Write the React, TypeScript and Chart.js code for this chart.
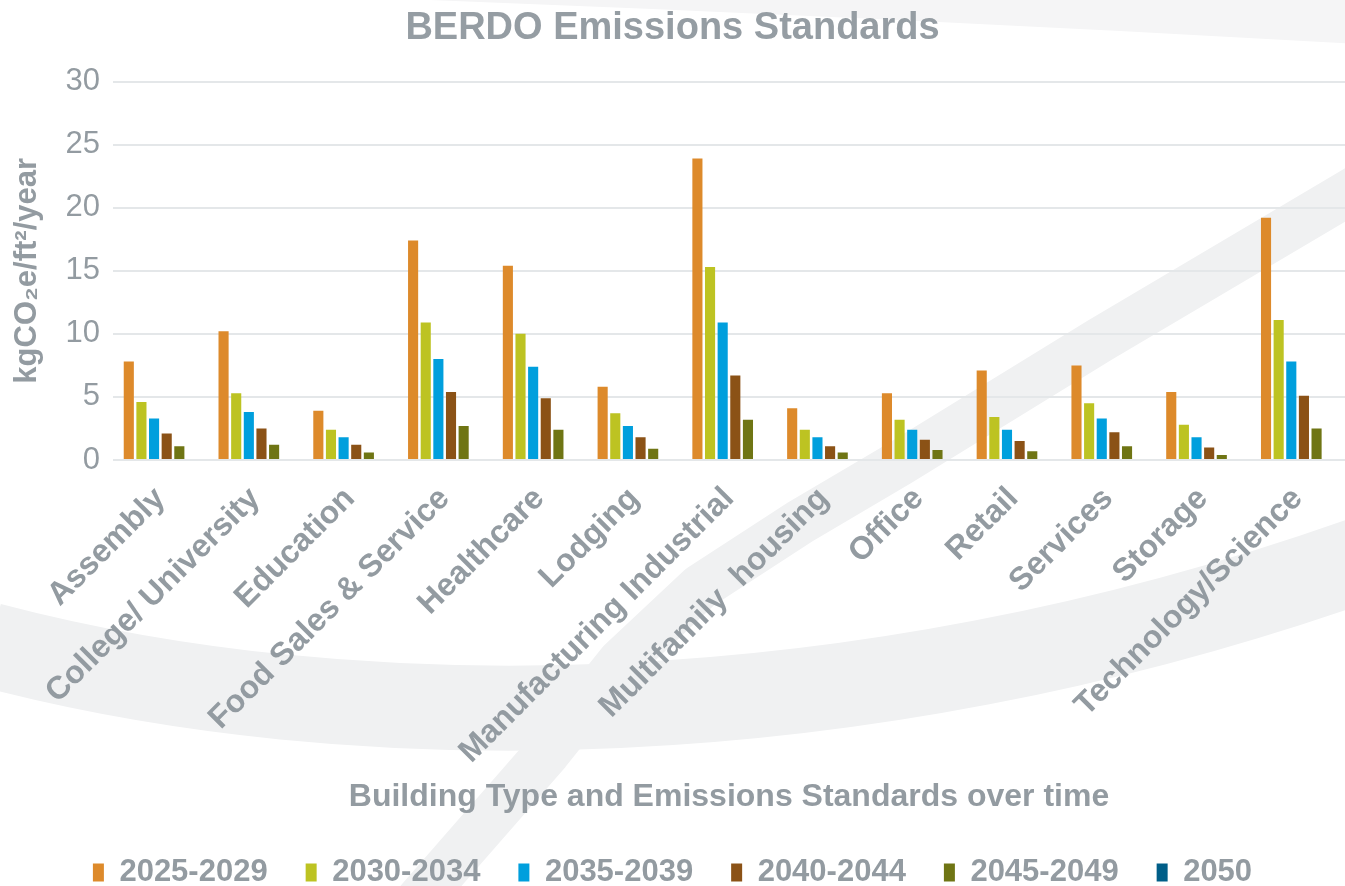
import React, { useEffect, useRef } from "react";
import { Chart, registerables } from "chart.js";

Chart.register(...registerables);

const categories = [
  "Assembly",
  "College/ University",
  "Education",
  "Food Sales & Service",
  "Healthcare",
  "Lodging",
  "Manufacturing Industrial",
  "Multifamily  housing",
  "Office",
  "Retail",
  "Services",
  "Storage",
  "Technology/Science",
];

const seriesNames = ["2025-2029", "2030-2034", "2035-2039", "2040-2044", "2045-2049", "2050"];

const s2025 = [7.8, 10.2, 3.9, 17.4, 15.4, 5.8, 23.9, 4.1, 5.3, 7.1, 7.5, 5.4, 19.2];
const s2030 = [4.6, 5.3, 2.4, 10.9, 10.0, 3.7, 15.3, 2.4, 3.2, 3.4, 4.5, 2.8, 11.1];
const s2035 = [3.3, 3.8, 1.8, 8.0, 7.4, 2.7, 10.9, 1.8, 2.4, 2.4, 3.3, 1.8, 7.8];
const s2040 = [2.1, 2.5, 1.2, 5.4, 4.9, 1.8, 6.7, 1.1, 1.6, 1.5, 2.2, 1.0, 5.1];
const s2045 = [1.1, 1.2, 0.6, 2.7, 2.4, 0.9, 3.2, 0.6, 0.8, 0.7, 1.1, 0.4, 2.5];
const s2050 = [0, 0, 0, 0, 0, 0, 0, 0, 0, 0, 0, 0, 0];

const seriesValues = [s2025, s2030, s2035, s2040, s2045, s2050];
const seriesColors = ["#dd8a2b", "#bdc322", "#009fdd", "#8b5216", "#6f7514", "#005e88"];

const yTicks = [0, 5, 10, 15, 20, 25, 30];

const TEXT = "#939ba1";
const FONT = "'Liberation Sans', Arial, sans-serif";

const bgPlugin = {
  id: "bgSwoosh",
  beforeDraw(chart: any) {
    const ctx = chart.ctx;
    const w = chart.width;
    const h = chart.height;
    ctx.save();
    ctx.fillStyle = "#ffffff";
    ctx.fillRect(0, 0, w, h);
    // top faint band
    ctx.fillStyle = "#f5f5f6";
    ctx.beginPath();
    ctx.moveTo(430, 0);
    ctx.quadraticCurveTo(900, 18, 1360, 44);
    ctx.lineTo(1360, 0);
    ctx.closePath();
    ctx.fill();
    // big curved band
    ctx.strokeStyle = "#f0f1f2";
    ctx.lineCap = "butt";
    ctx.lineJoin = "round";
    ctx.lineWidth = 85;
    ctx.beginPath();
    ctx.moveTo(-10, 645);
    ctx.bezierCurveTo(350, 740, 850, 740, 1360, 560);
    ctx.stroke();
    // diagonal band
    ctx.lineWidth = 46;
    ctx.beginPath();
    const pts = [
      [410, 910],
      [548, 752],
      [620, 662],
      [700, 587],
      [800, 522],
      [900, 463],
      [1100, 340],
      [1345, 195],
      [1400, 162],
    ];
    ctx.moveTo(pts[0][0], pts[0][1]);
    for (let i = 1; i < pts.length; i++) ctx.lineTo(pts[i][0], pts[i][1]);
    ctx.stroke();
    ctx.restore();
  },
};

export default function App() {
  const ref = useRef<HTMLCanvasElement | null>(null);

  useEffect(() => {
    if (!ref.current) return;
    const chart = new Chart(ref.current, {
      type: "bar",
      data: {
        labels: categories,
        datasets: seriesNames.map((name, i) => ({
          label: name,
          data: seriesValues[i],
          backgroundColor: seriesColors[i],
          borderWidth: 0,
          categoryPercentage: 0.8,
          barPercentage: 0.8,
        })),
      },
      options: {
        animation: false,
        responsive: false,
        devicePixelRatio: 1,
        layout: { padding: { left: 0, right: 0, top: 0, bottom: 0 } },
        plugins: {
          title: {
            display: true,
            text: "BERDO Emissions Standards",
            color: "#959da3",
            font: { family: FONT, size: 38, weight: "bold" },
            padding: { top: 6, bottom: 30 },
          },
          legend: {
            position: "bottom",
            labels: {
              color: TEXT,
              font: { family: FONT, size: 31, weight: "bold" },
              boxWidth: 11,
              boxHeight: 18,
              padding: 38,
            },
          },
          tooltip: { enabled: false },
        },
        scales: {
          x: {
            grid: { display: false },
            border: { display: false },
            ticks: {
              color: TEXT,
              font: { family: FONT, size: 32, weight: "bold" },
              maxRotation: 45,
              minRotation: 45,
              padding: 12,
              autoSkip: false,
            },
            title: {
              display: true,
              text: "Building Type and Emissions Standards over time",
              color: TEXT,
              font: { family: FONT, size: 32, weight: "bold" },
              padding: { top: 0, bottom: 3 },
            },
            afterFit(scale: any) {
              scale.height = 359;
            },
          },
          y: {
            min: 0,
            max: 30,
            afterBuildTicks(scale: any) {
              scale.ticks = yTicks.map((v) => ({ value: v }));
            },
            grid: { color: "#e4e7e9", lineWidth: 2, drawTicks: false },
            border: { display: false },
            ticks: {
              color: TEXT,
              font: { family: FONT, size: 31 },
              padding: 13,
            },
            title: {
              display: true,
              text: "kgCO₂e/ft²/year",
              color: TEXT,
              font: { family: FONT, size: 31, weight: "bold" },
              padding: { top: 9, bottom: 0 },
            },
            afterFit(scale: any) {
              scale.width = 113;
            },
          },
        },
      },
      plugins: [bgPlugin],
    });
    return () => chart.destroy();
  }, []);

  return (
    <canvas
      ref={ref}
      width={1345}
      height={898}
      style={{ position: "fixed", left: 0, top: 0, width: 1345, height: 898, display: "block" }}
    />
  );
}
